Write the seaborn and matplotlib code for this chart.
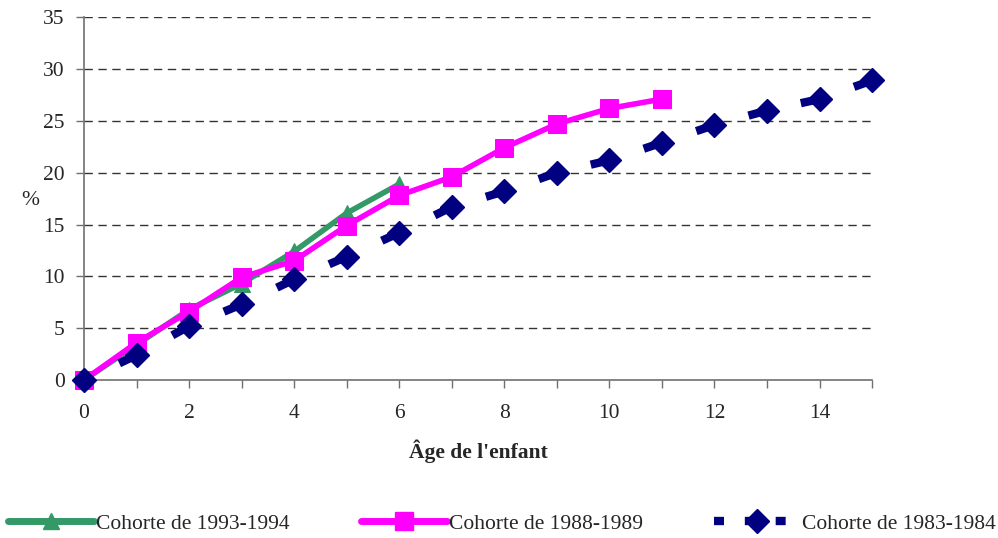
import matplotlib
matplotlib.use('Agg')
import matplotlib.pyplot as plt
from matplotlib.lines import Line2D
from matplotlib.ticker import MultipleLocator, FuncFormatter
import numpy as np
import pandas as pd
import seaborn as sns

# données
ages_93 = [0, 1, 2, 3, 4, 5, 6]
vals_93 = [0, 3.4, 6.8, 9.3, 12.4, 16.1, 18.9]
ages_88 = [0, 1, 2, 3, 4, 5, 6, 7, 8, 9, 10, 11]
vals_88 = [0, 3.6, 6.6, 9.9, 11.5, 14.9, 17.8, 19.6, 22.4, 24.7, 26.2, 27.1]
ages_83 = [0, 1, 2, 3, 4, 5, 6, 7, 8, 9, 10, 11, 12, 13, 14, 15]
vals_83 = [0, 2.4, 5.2, 7.3, 9.7, 11.9, 14.2, 16.7, 18.2, 20.0, 21.2, 22.9, 24.6, 26.0, 27.1, 28.9]
labels = ['Cohorte de 1993-1994', 'Cohorte de 1988-1989', 'Cohorte de 1983-1984']

green = '#339966'
pink = '#FF00FF'
navy = '#000080'
fs = 15.5

sns.set_style('white')
plt.rcParams['font.family'] = ['Liberation Serif', 'DejaVu Serif']
plt.rcParams['font.size'] = fs

fig = plt.figure(figsize=(9.98, 5.38), dpi=100)
ax = fig.add_axes([0.0842, 0.2937, 0.7896, 0.6743])

df93 = pd.DataFrame({'age': ages_93, 'pct': vals_93})
df88 = pd.DataFrame({'age': ages_88, 'pct': vals_88})
sns.lineplot(data=df93, x='age', y='pct', ax=ax, color=green, lw=4,
             marker='^', markersize=11, markeredgecolor=green, zorder=3, clip_on=False)
sns.lineplot(data=df88, x='age', y='pct', ax=ax, color=pink, lw=4,
             marker='s', markersize=13, markeredgecolor=pink, zorder=4, clip_on=False)

# cohorte 1983-1984 : tiret épais collé à chaque point (style Excel)
for i in range(len(ages_83) - 1):
    ax.plot([ages_83[i + 1], ages_83[i]], [vals_83[i + 1], vals_83[i]],
            color=navy, lw=6, dashes=(2.3, 60), solid_capstyle='butt',
            dash_capstyle='butt', zorder=5, clip_on=False)
ax.plot(ages_83, vals_83, ls='none', marker='D', markersize=12,
        color=navy, markeredgecolor=navy, zorder=6, clip_on=False)

ax.set_xlim(0, 15)
ax.set_ylim(0, 35)
ax.xaxis.set_major_locator(MultipleLocator(1))
ax.xaxis.set_major_formatter(FuncFormatter(lambda v, p: '%d' % v if int(v) % 2 == 0 else ''))
ax.yaxis.set_major_locator(MultipleLocator(5))
ax.tick_params(axis='both', direction='out', length=6, width=1, color='#707070',
               labelsize=fs, bottom=True, left=True)
ax.tick_params(axis='x', pad=11)
ax.tick_params(axis='y', pad=8)

for yv in range(5, 40, 5):
    ax.axhline(yv, color='#333333', lw=1, dashes=(6, 4), zorder=1)

sns.despine(ax=ax)
for s in ['left', 'bottom']:
    ax.spines[s].set_color('#707070')
    ax.spines[s].set_linewidth(1.2)

ax.set_xlabel("Âge de l'enfant", fontsize=fs, fontweight='bold')
ax.xaxis.set_label_coords(0.5, -0.163)
ax.set_ylabel('%', rotation=0, fontsize=fs, va='center', ha='center')
ax.yaxis.set_label_coords(-0.0685, 0.495)

handles = [
    Line2D([], [], color=green, lw=5, marker='^', markersize=11),
    Line2D([], [], color=pink, lw=5, marker='s', markersize=13),
    Line2D([], [], color=navy, lw=6, dashes=(1.2, 2.5), marker='D', markersize=12),
]
fig.legend(handles, labels, loc='center', bbox_to_anchor=(0.503, 0.027), ncol=3,
           frameon=False, fontsize=fs, handlelength=4.0, handletextpad=0.1,
           columnspacing=3.3, numpoints=1)

fig.savefig('out.png', dpi=100)
